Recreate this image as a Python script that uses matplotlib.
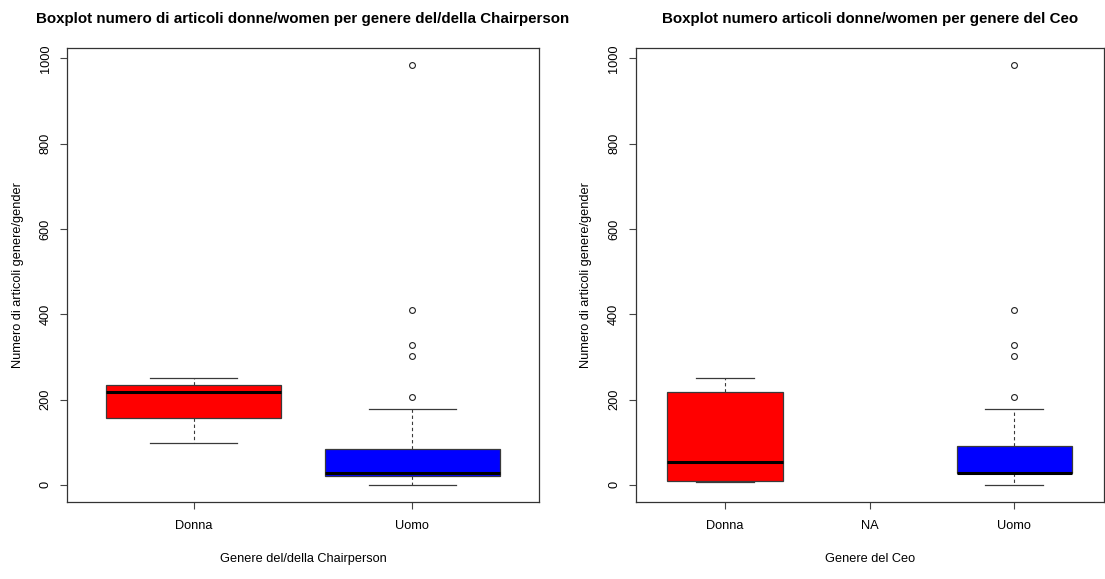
import matplotlib
matplotlib.use("Agg")
import matplotlib.pyplot as plt

plt.rcParams['font.family'] = ['Liberation Sans', 'DejaVu Sans']

# Box statistics per group: lower whisker, Q1, median, Q3, upper whisker, outliers
chair_labels = ["Donna", "Uomo"]
chair_whislo = [99, 0]
chair_q1 = [157, 21]
chair_med = [218, 28]
chair_q3 = [235, 84]
chair_whishi = [251, 178]
chair_fliers = [[], [985, 410, 328, 303, 206]]
chair_colors = ["#FF0000", "#0000FF"]

ceo_labels = ["Donna", "NA", "Uomo"]
ceo_whislo = [7, None, 0]
ceo_q1 = [10, None, 27]
ceo_med = [53, None, 28]
ceo_q3 = [218, None, 91]
ceo_whishi = [251, None, 178]
ceo_fliers = [[], [], [985, 410, 328, 303, 206]]
ceo_colors = ["#FF0000", None, "#0000FF"]

y_ticks = [0, 200, 400, 600, 800, 1000]

W, H = 1105, 579
fig = plt.figure(figsize=(W / 100, H / 100), dpi=100)


def px_axes(x0, x1, y0, y1):
    return fig.add_axes([x0 / W, 1 - y1 / H, (x1 - x0) / W, (y1 - y0) / H])


def draw(ax, labels, whislo, q1, med, q3, whishi, fliers, colors,
         title, xlabel):
    n = len(labels)
    stats, pos, cols = [], [], []
    for i in range(n):
        if med[i] is None:
            continue
        stats.append(dict(whislo=whislo[i], q1=q1[i], med=med[i], q3=q3[i],
                          whishi=whishi[i], fliers=fliers[i]))
        pos.append(i + 1)
        cols.append(colors[i])
    edge = "#3a3a3a"
    bp = ax.bxp(stats, positions=pos, widths=0.8, patch_artist=True,
                showfliers=True,
                boxprops=dict(edgecolor=edge, linewidth=0.9),
                whiskerprops=dict(color=edge, linewidth=0.8,
                                  linestyle=(0, (3, 2.5))),
                capprops=dict(color=edge, linewidth=0.9),
                capwidths=0.4,
                medianprops=dict(color="black", linewidth=2.2,
                                 solid_capstyle="butt"),
                flierprops=dict(marker="o", markersize=4.2,
                                markerfacecolor="none",
                                markeredgecolor="#222222",
                                markeredgewidth=0.8))
    for patch, c in zip(bp["boxes"], cols):
        patch.set_facecolor(c)

    rng = n
    ax.set_xlim(0.5 - 0.04 * rng, n + 0.5 + 0.04 * rng)
    ymax = 985
    ax.set_ylim(-0.04 * ymax, ymax * 1.04)
    ax.set_xticks(range(1, n + 1))
    ax.set_xticklabels(labels)
    ax.set_yticks(y_ticks)
    ax.set_yticklabels([str(v) for v in y_ticks], rotation=90, va="center")
    ax.tick_params(axis="both", direction="out", length=5, width=0.8,
                   color="#444444", labelsize=9.2)
    ax.tick_params(axis="x", pad=8.5)
    ax.tick_params(axis="y", pad=6)
    for s in ax.spines.values():
        s.set_linewidth(0.9)
        s.set_color("#333333")
    ax.set_title(title, fontsize=10.9, fontweight="bold", pad=18)
    ax.set_xlabel(xlabel, fontsize=9.2, labelpad=15)
    ax.set_ylabel("Numero di articoli genere/gender", fontsize=9.2,
                  labelpad=11.5)


ax1 = px_axes(67, 539, 48, 501.7)
draw(ax1, chair_labels, chair_whislo, chair_q1, chair_med, chair_q3,
     chair_whishi, chair_fliers, chair_colors,
     "Boxplot numero di articoli donne/women per genere del/della Chairperson",
     "Genere del/della Chairperson")

ax2 = px_axes(635.5, 1104, 48, 501.7)
draw(ax2, ceo_labels, ceo_whislo, ceo_q1, ceo_med, ceo_q3,
     ceo_whishi, ceo_fliers, ceo_colors,
     "Boxplot numero articoli donne/women per genere del Ceo",
     "Genere del Ceo")

fig.savefig("out.png", dpi=100)
